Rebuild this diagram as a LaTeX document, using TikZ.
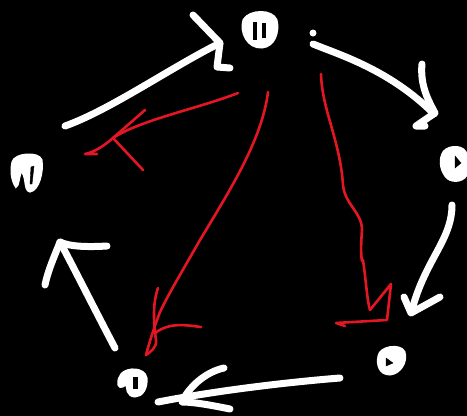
\documentclass[tikz,border=0pt]{standalone}
\usetikzlibrary{calc}
\definecolor{redink}{RGB}{228,22,36}
\tikzset{
  wstroke/.style={draw=white,line width=7pt,line cap=round,line join=round},
  rstroke/.style={draw=redink,line width=2.6pt,line cap=round,line join=round},
  blob/.style={fill=white,draw=white,line width=3pt},
  hole/.style={fill=black,draw=black}
}
\begin{document}
\begin{tikzpicture}[x=1pt,y=-1pt]
\fill[black] (0,0) rectangle (467,416);
\useasboundingbox (0,0) rectangle (467,416);
% blobs
\coordinate (top) at (259,29);
\coordinate (left) at (27,174);
\coordinate (right) at (455,163);
\coordinate (br) at (391,360);
\coordinate (bl) at (132,383);
\fill[blob] (244,20) .. controls (250,10) and (272,10) .. (276,20) .. controls (279,32) and (274,46) .. (262,47) .. controls (248,48) and (240,32) .. (244,20) -- cycle;
\fill[hole] (253,22) rectangle (256,39);
\fill[hole] (262,23) rectangle (265,37);
\fill[blob] (13,162) .. controls (15,154) and (38,152) .. (41,160) .. controls (43,172) and (38,190) .. (30,191) .. controls (24,190) and (28,176) .. (21,170) .. controls (18,178) and (18,186) .. (16,186) .. controls (12,180) and (11,170) .. (13,162) -- cycle;
\fill[hole] (31,167) -- (34,166) -- (32,184) -- (30,184) -- cycle;
\fill[blob] (444,152) .. controls (450,145) and (465,146) .. (466,155) -- (466,175) .. controls (462,182) and (450,182) .. (446,176) .. controls (440,168) and (440,158) .. (444,152) -- cycle;
\fill[hole] (455,156) -- (461,163) -- (455,168) -- cycle;
\fill[blob] (379,356) .. controls (380,347) and (400,344) .. (404,352) .. controls (407,362) and (400,373) .. (390,374) .. controls (380,374) and (377,365) .. (379,356) -- cycle;
\fill[hole] (386,358) -- (393,363) -- (386,366) -- cycle;
\fill[blob] (122,374) .. controls (128,368) and (144,368) .. (146,378) .. controls (147,388) and (142,396) .. (135,396) .. controls (128,396) and (126,388) .. (128,382) .. controls (124,386) and (120,388) .. (119,385) .. controls (118,380) and (120,377) .. (122,374) -- cycle;
\fill[hole] (133,377) rectangle (137,388);
\fill[white] (313,33) circle (3.5);
% white arrows
\draw[wstroke] (65,126) .. controls (110,110) and (170,68) .. (220,43);
\draw[wstroke] (193,15) -- (220,43) -- (217,67) -- (230,68);
\draw[wstroke] (313,44) .. controls (340,55) and (390,70) .. (434,114);
\draw[wstroke] (422,64) .. controls (420,85) and (428,100) .. (435,113) -- (416,126) -- (425,126);
\draw[wstroke] (452,205) .. controls (452,240) and (425,260) .. (412,310);
\draw[wstroke] (404,297) -- (411,313) -- (440,297);
\draw[wstroke] (340,378) .. controls (290,382) and (220,390) .. (158,402);
\draw[wstroke] (224,368) .. controls (205,372) and (188,388) .. (182,402) .. controls (195,402) and (215,406) .. (230,409);
\draw[wstroke] (115,348) .. controls (95,310) and (75,270) .. (60,242);
\draw[wstroke] (45,285) .. controls (48,270) and (55,255) .. (60,242) .. controls (70,247) and (90,247) .. (107,246);
% red arrows
\draw[rstroke] (238,93) .. controls (200,108) and (140,120) .. (113,138) .. controls (105,145) and (95,152) .. (85,154) -- (97,154);
\draw[rstroke] (145,110) -- (113,138) -- (143,170);
\draw[rstroke] (268,92) .. controls (262,140) and (230,190) .. (200,240) .. controls (180,275) and (168,295) .. (160,312) .. controls (155,325) and (150,340) .. (146,355);
\draw[rstroke] (158,288) .. controls (152,305) and (154,325) .. (156,340) .. controls (157,348) and (150,352) .. (146,355);
\draw[rstroke] (155,333) .. controls (170,322) and (185,325) .. (201,327);
\draw[rstroke] (321,74) .. controls (322,110) and (340,140) .. (343,185) .. controls (345,205) and (362,212) .. (362,230) .. controls (360,255) and (362,265) .. (363,260) .. controls (366,280) and (367,300) .. (370,310);
\draw[rstroke] (370,310) -- (391,284) -- (387,320) -- (336,323) -- (345,326);
\end{tikzpicture}
\end{document}
